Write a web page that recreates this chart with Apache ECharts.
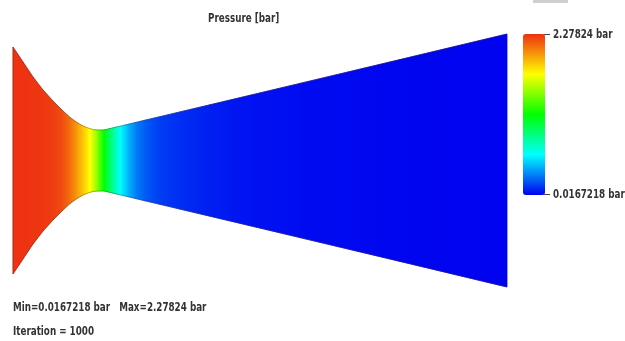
<!DOCTYPE html>
<html>
<head>
<meta charset="utf-8">
<style>
  html, body { margin: 0; padding: 0; background: #ffffff; }
  #chart { width: 625px; height: 341px; }
</style>
<script src="https://cdn.jsdelivr.net/npm/echarts@6/dist/echarts.min.js"></script>
</head>
<body>
<div id="chart"></div>
<script>
// Nozzle stations along the axis (mm from inlet plane)
const axialPos = [0, 10, 20, 30, 40, 49, 57, 64, 70, 75, 80, 85, 91, 97, 103, 108, 115, 123, 132, 147, 167, 197, 237, 287, 387, 494];
// Wall half-height at each station (mm)
const wallRadius = [113.5, 98.5, 83.5, 70.5, 59.5, 50.5, 43, 38, 34.5, 32.5, 31, 30.5, 30.5, 31.9, 33.4, 34.5, 36.2, 38.1, 40.3, 43.8, 48.6, 55.7, 65.2, 77.1, 100.9, 126.5];
// Static pressure at each station (bar)
const pressure = [2.274, 2.271, 2.267, 2.260, 2.244, 2.199, 2.109, 1.984, 1.871, 1.758, 1.622, 1.419, 1.147, 0.921, 0.718, 0.571, 0.424, 0.299, 0.220, 0.152, 0.118, 0.085, 0.057, 0.042, 0.030, 0.023];
// Field extremes and solver info
const pMin = 0.0167218;
const pMax = 2.27824;
const iteration = 1000;
const fieldName = 'Pressure [bar]';

const rampColors = ['#0000f0', '#00ffff', '#00ff00', '#ffff00', '#ee3012'];
const labelFont = "bold 13px 'DejaVu Sans Condensed', 'Liberation Sans Narrow', sans-serif";
const squeeze = 0.75;

function rampColor(p) {
  const t = Math.max(0, Math.min(1, (p - pMin) / (pMax - pMin)));
  return echarts.color.lerp(t, rampColors);
}

function label(text, x, y) {
  return {
    type: 'text', x: x, y: y, scaleX: squeeze, silent: true,
    style: { text: text, font: labelFont, fill: '#333333', verticalAlign: 'top', align: 'left' }
  };
}

// One strip of the flow domain between two consecutive stations
const strips = axialPos.slice(0, -1).map((x, i) => [
  x, axialPos[i + 1], wallRadius[i], wallRadius[i + 1], pressure[i], pressure[i + 1]
]);

const upperWall = axialPos.map((x, i) => [x, wallRadius[i]]);
const lowerWall = axialPos.map((x, i) => [x, -wallRadius[i]]);
const inletEdge = [[axialPos[0], wallRadius[0]], [axialPos[0], -wallRadius[0]]];

const chart = echarts.init(document.getElementById('chart'), null, { renderer: 'canvas' });

chart.setOption({
  animation: false,
  backgroundColor: '#ffffff',
  grid: { left: 13, top: 34, width: 494, height: 253, containLabel: false },
  xAxis: { type: 'value', min: 0, max: 494, show: false },
  yAxis: { type: 'value', min: -126.5, max: 126.5, show: false },
  visualMap: {
    type: 'continuous',
    min: pMin,
    max: pMax,
    dimension: 4,
    seriesIndex: 0,
    calculable: false,
    orient: 'vertical',
    left: 523,
    top: 34,
    padding: 0,
    itemWidth: 22,
    itemHeight: 161,
    text: null,
    showLabel: false,
    inRange: { color: rampColors }
  },
  graphic: [
    { type: 'rect', shape: { x: 533, y: 0, width: 35, height: 3 }, style: { fill: '#cfcfcf' } },
    { type: 'line', shape: { x1: 543, y1: 34.5, x2: 550, y2: 34.5 }, style: { stroke: '#444', lineWidth: 1 } },
    { type: 'line', shape: { x1: 543, y1: 194.5, x2: 550, y2: 194.5 }, style: { stroke: '#444', lineWidth: 1 } },
    label(fieldName, 208, 12),
    label(pMax + ' bar', 553, 28),
    label(pMin + ' bar', 553, 188),
    label('Min=' + pMin + ' bar   Max=' + pMax + ' bar', 13, 301),
    label('Iteration = ' + iteration, 13, 325)
  ],
  series: [
    {
      type: 'custom',
      coordinateSystem: 'cartesian2d',
      data: strips,
      silent: true,
      renderItem: function (params, api) {
        const x0 = api.value(0), x1 = api.value(1);
        const r0 = api.value(2), r1 = api.value(3);
        const p0 = api.value(4), p1 = api.value(5);
        const a = api.coord([x0, r0]);
        const b = api.coord([x1, r1]);
        const c = api.coord([x1, -r1]);
        const d = api.coord([x0, -r0]);
        const stops = [];
        for (let k = 0; k <= 6; k++) {
          const t = k / 6;
          stops.push({ offset: t, color: rampColor(p0 + (p1 - p0) * t) });
        }
        const grad = new echarts.graphic.LinearGradient(0, 0, 1, 0, stops);
        return {
          type: 'polygon',
          shape: { points: [a, b, c, d] },
          style: { fill: grad, stroke: grad, lineWidth: 0.8 }
        };
      }
    },
    {
      type: 'line', data: upperWall, symbol: 'none', silent: true,
      lineStyle: { color: 'rgba(60,30,40,0.35)', width: 1 }
    },
    {
      type: 'line', data: lowerWall, symbol: 'none', silent: true,
      lineStyle: { color: 'rgba(60,30,40,0.35)', width: 1 }
    },
    {
      type: 'line', data: inletEdge, symbol: 'none', silent: true,
      lineStyle: { color: 'rgba(90,40,30,0.45)', width: 1 }
    }
  ]
});
</script>
</body>
</html>
